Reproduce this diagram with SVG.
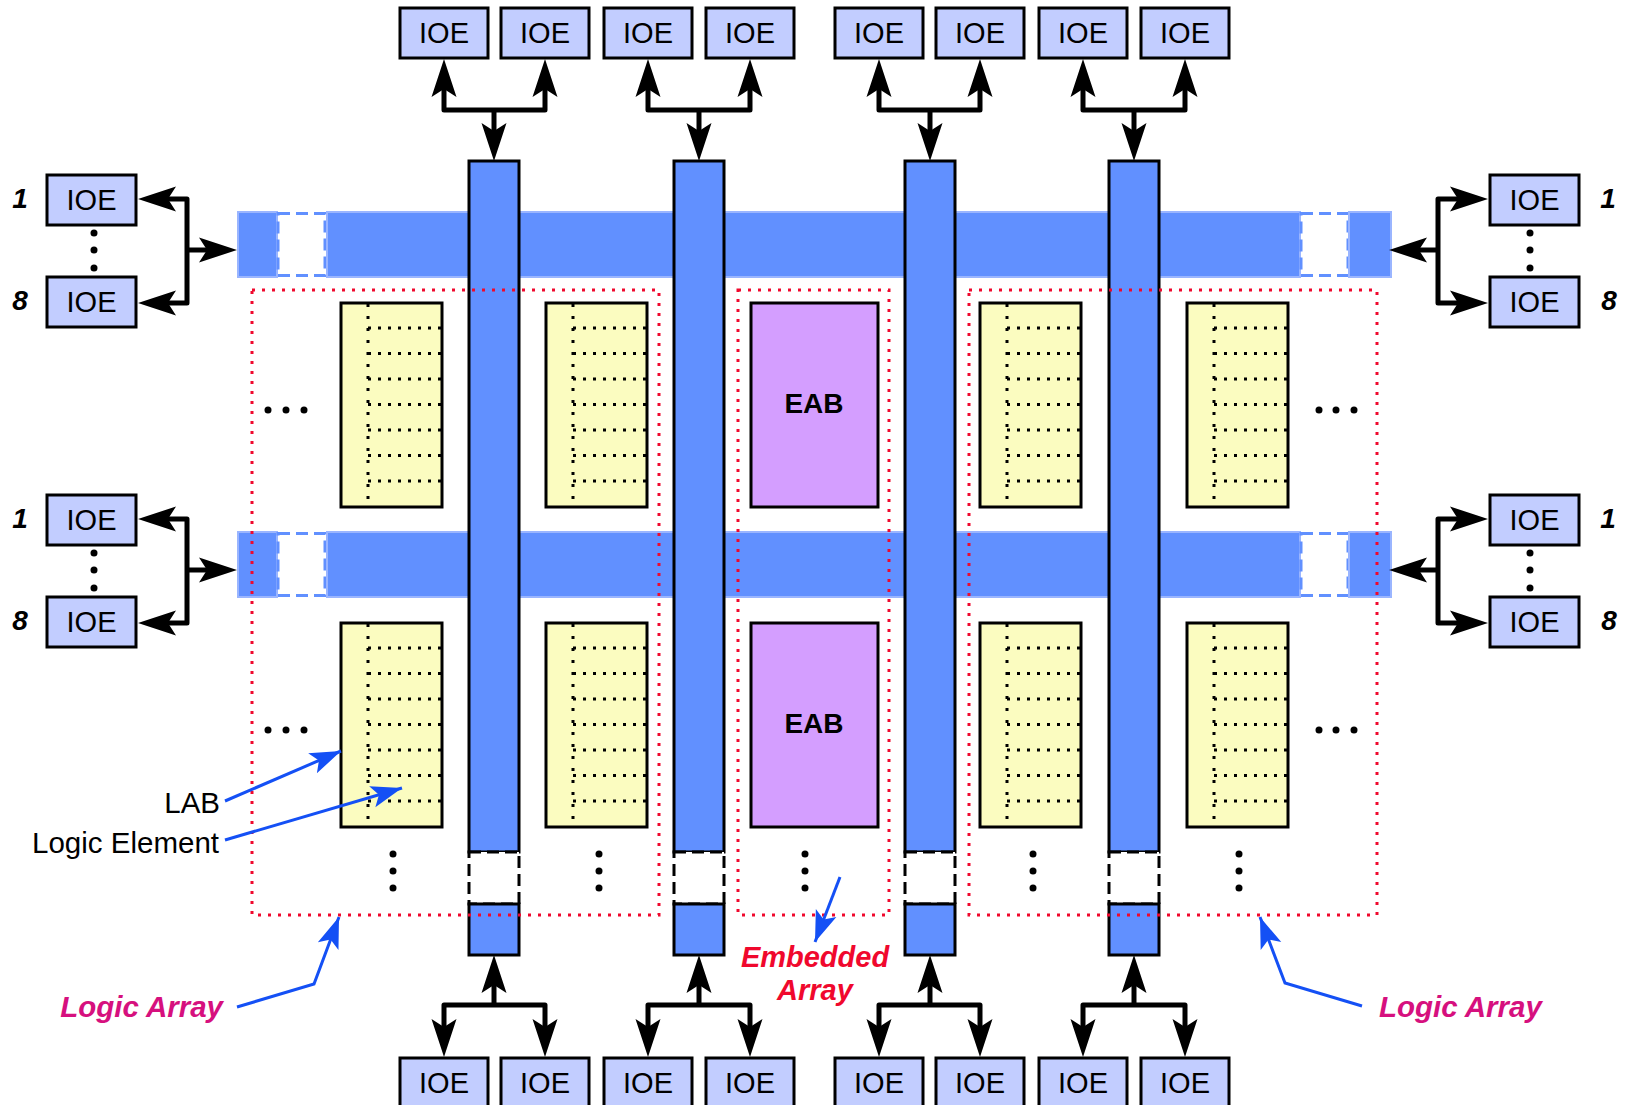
<svg xmlns="http://www.w3.org/2000/svg" width="1625" height="1105" viewBox="0 0 1625 1105">
<style>
.ioe{fill:#c2cdff;stroke:#000;stroke-width:3}
.t{font-family:"Liberation Sans",Arial,sans-serif;font-size:29px;fill:#000;text-anchor:middle}
.lbl{font-family:"Liberation Sans",Arial,sans-serif;font-size:29.5px;fill:#000}
.num{font-family:"Liberation Sans",Arial,sans-serif;font-size:28px;font-weight:bold;font-style:italic;fill:#000;text-anchor:middle}
.bar{fill:#6190ff;stroke:#9ab5ff;stroke-width:2}
.gap{fill:#fff;stroke:#6190ff;stroke-width:3;stroke-dasharray:12 6}
.col{fill:#6190ff;stroke:#000;stroke-width:3}
.cgap{fill:#fff;stroke:#000;stroke-width:3;stroke-dasharray:12 6}
.lab{fill:#fbfcc0;stroke:#000;stroke-width:3}
.eab{fill:#d49eff;stroke:#000;stroke-width:3}
.dotl{fill:none;stroke:#000;stroke-width:3;stroke-dasharray:3 7}
.dotv{fill:none;stroke:#000;stroke-width:3;stroke-dasharray:3 9}
.red{fill:none;stroke:#f0082d;stroke-width:3;stroke-dasharray:3 7}
.blk{fill:none;stroke:#000;stroke-width:5;stroke-linejoin:round;marker-end:url(#ah)}
.blu{fill:none;stroke:#1450f5;stroke-width:3;stroke-linejoin:miter;marker-end:url(#bh)}
.mag{font-family:"Liberation Sans",Arial,sans-serif;font-size:29.5px;font-weight:bold;font-style:italic;fill:#d6107e}
.emb{font-family:"Liberation Sans",Arial,sans-serif;font-size:29px;font-weight:bold;font-style:italic;fill:#f0082d;text-anchor:middle}
.eabt{font-family:"Liberation Sans",Arial,sans-serif;font-size:28px;font-weight:bold;fill:#000;text-anchor:middle}
</style>
<defs>
<marker id="ah" markerUnits="userSpaceOnUse" viewBox="-10 -14 42 28" refX="0" refY="0" markerWidth="42" markerHeight="28" orient="auto">
<path d="M30,0 L-8,-12.5 L0,0 L-8,12.5 Z" fill="#000"/>
</marker>
<marker id="bh" markerUnits="userSpaceOnUse" viewBox="-32 -13 34 26" refX="0" refY="0" markerWidth="34" markerHeight="26" orient="auto">
<path d="M0,0 L-31,-11 L-24,0 L-31,11 Z" fill="#1450f5"/>
</marker>
<g id="labin">
<path class="dotv" d="M27,1 V203"/>
<path class="dotl" d="M27,25 H100 M27,50.5 H100 M27,76 H100 M27,101.5 H100 M27,127 H100 M27,152.5 H100 M27,178 H100"/>
</g>
</defs>

<g id="hbar1">
<rect class="bar" x="238" y="212" width="39" height="65"/>
<rect class="gap" x="278" y="213.5" width="47" height="62"/>
<rect class="bar" x="327" y="212" width="973" height="65"/>
<rect class="gap" x="1301" y="213.5" width="47" height="62"/>
<rect class="bar" x="1349" y="212" width="42" height="65"/>
</g>
<g id="hbar2">
<rect class="bar" x="238" y="532" width="39" height="65"/>
<rect class="gap" x="278" y="533.5" width="47" height="62"/>
<rect class="bar" x="327" y="532" width="973" height="65"/>
<rect class="gap" x="1301" y="533.5" width="47" height="62"/>
<rect class="bar" x="1349" y="532" width="42" height="65"/>
</g>

<g id="vcol1">
<rect class="col" x="469" y="161" width="50" height="691"/>
<rect class="cgap" x="469" y="852" width="50" height="52"/>
<rect class="col" x="469" y="904" width="50" height="51"/>
</g>
<g id="vcol2">
<rect class="col" x="674" y="161" width="50" height="691"/>
<rect class="cgap" x="674" y="852" width="50" height="52"/>
<rect class="col" x="674" y="904" width="50" height="51"/>
</g>
<g id="vcol3">
<rect class="col" x="905" y="161" width="50" height="691"/>
<rect class="cgap" x="905" y="852" width="50" height="52"/>
<rect class="col" x="905" y="904" width="50" height="51"/>
</g>
<g id="vcol4">
<rect class="col" x="1109" y="161" width="50" height="691"/>
<rect class="cgap" x="1109" y="852" width="50" height="52"/>
<rect class="col" x="1109" y="904" width="50" height="51"/>
</g>

<g id="lab-1-1"><rect class="lab" x="341" y="303" width="101" height="204"/><use href="#labin" x="341" y="303"/></g>
<g id="lab-1-2"><rect class="lab" x="546" y="303" width="101" height="204"/><use href="#labin" x="546" y="303"/></g>
<g id="lab-1-3"><rect class="lab" x="980" y="303" width="101" height="204"/><use href="#labin" x="980" y="303"/></g>
<g id="lab-1-4"><rect class="lab" x="1187" y="303" width="101" height="204"/><use href="#labin" x="1187" y="303"/></g>
<g id="lab-2-1"><rect class="lab" x="341" y="623" width="101" height="204"/><use href="#labin" x="341" y="623"/></g>
<g id="lab-2-2"><rect class="lab" x="546" y="623" width="101" height="204"/><use href="#labin" x="546" y="623"/></g>
<g id="lab-2-3"><rect class="lab" x="980" y="623" width="101" height="204"/><use href="#labin" x="980" y="623"/></g>
<g id="lab-2-4"><rect class="lab" x="1187" y="623" width="101" height="204"/><use href="#labin" x="1187" y="623"/></g>

<g id="eab1"><rect class="eab" x="751" y="303" width="127" height="204"/><text class="eabt" x="814" y="413">EAB</text></g>
<g id="eab2"><rect class="eab" x="751" y="623" width="127" height="204"/><text class="eabt" x="814" y="733">EAB</text></g>

<g id="logic-array-left"><rect class="red" x="252" y="290" width="407" height="625"/></g>
<g id="embedded-array"><rect class="red" x="738" y="290" width="151" height="625"/></g>
<g id="logic-array-right"><rect class="red" x="969" y="290" width="408" height="625"/></g>

<g id="ellipses" fill="#000">
<circle cx="268" cy="410" r="3.5"/><circle cx="286" cy="410" r="3.5"/><circle cx="304" cy="410" r="3.5"/>
<circle cx="268" cy="730" r="3.5"/><circle cx="286" cy="730" r="3.5"/><circle cx="304" cy="730" r="3.5"/>
<circle cx="1319" cy="410" r="3.5"/><circle cx="1336" cy="410" r="3.5"/><circle cx="1354" cy="410" r="3.5"/>
<circle cx="1319" cy="730" r="3.5"/><circle cx="1336" cy="730" r="3.5"/><circle cx="1354" cy="730" r="3.5"/>
<circle cx="393" cy="854" r="3.5"/><circle cx="393" cy="871" r="3.5"/><circle cx="393" cy="888" r="3.5"/>
<circle cx="599" cy="854" r="3.5"/><circle cx="599" cy="871" r="3.5"/><circle cx="599" cy="888" r="3.5"/>
<circle cx="805" cy="854" r="3.5"/><circle cx="805" cy="871" r="3.5"/><circle cx="805" cy="888" r="3.5"/>
<circle cx="1033" cy="854" r="3.5"/><circle cx="1033" cy="871" r="3.5"/><circle cx="1033" cy="888" r="3.5"/>
<circle cx="1239" cy="854" r="3.5"/><circle cx="1239" cy="871" r="3.5"/><circle cx="1239" cy="888" r="3.5"/>
<circle cx="94" cy="233" r="3.5"/><circle cx="94" cy="250" r="3.5"/><circle cx="94" cy="268" r="3.5"/>
<circle cx="94" cy="553" r="3.5"/><circle cx="94" cy="570" r="3.5"/><circle cx="94" cy="588" r="3.5"/>
<circle cx="1530" cy="233" r="3.5"/><circle cx="1530" cy="250" r="3.5"/><circle cx="1530" cy="268" r="3.5"/>
<circle cx="1530" cy="553" r="3.5"/><circle cx="1530" cy="570" r="3.5"/><circle cx="1530" cy="588" r="3.5"/>
</g>

<g id="connectors">
<path class="blk" d="M494,110 H444 V89"/><path class="blk" d="M494,110 H545 V89"/><path class="blk" d="M494,110 V131"/>
<path class="blk" d="M699,110 H648 V89"/><path class="blk" d="M699,110 H750 V89"/><path class="blk" d="M699,110 V131"/>
<path class="blk" d="M930,110 H879 V89"/><path class="blk" d="M930,110 H980 V89"/><path class="blk" d="M930,110 V131"/>
<path class="blk" d="M1134,110 H1083 V89"/><path class="blk" d="M1134,110 H1185 V89"/><path class="blk" d="M1134,110 V131"/>
<path class="blk" d="M494,1005 H444 V1027"/><path class="blk" d="M494,1005 H545 V1027"/><path class="blk" d="M494,1005 V985"/>
<path class="blk" d="M699,1005 H648 V1027"/><path class="blk" d="M699,1005 H750 V1027"/><path class="blk" d="M699,1005 V985"/>
<path class="blk" d="M930,1005 H879 V1027"/><path class="blk" d="M930,1005 H980 V1027"/><path class="blk" d="M930,1005 V985"/>
<path class="blk" d="M1134,1005 H1083 V1027"/><path class="blk" d="M1134,1005 H1185 V1027"/><path class="blk" d="M1134,1005 V985"/>
<path class="blk" d="M187,250 V199 H168"/><path class="blk" d="M187,250 V303 H168"/><path class="blk" d="M187,250 H207"/>
<path class="blk" d="M187,570 V519 H168"/><path class="blk" d="M187,570 V623 H168"/><path class="blk" d="M187,570 H207"/>
<path class="blk" d="M1438,250 V199 H1458"/><path class="blk" d="M1438,250 V303 H1458"/><path class="blk" d="M1438,250 H1419"/>
<path class="blk" d="M1438,570 V519 H1458"/><path class="blk" d="M1438,570 V623 H1458"/><path class="blk" d="M1438,570 H1419"/>
<path class="blu" d="M225,801 L341,751"/>
<path class="blu" d="M225,840 L402,788"/>
<path class="blu" d="M237,1007 L314,984 L339,917"/>
<path class="blu" d="M1362,1006 L1285,983 L1260,917"/>
<path class="blu" d="M840,877 L815,942"/>
</g>

<g id="ioe-top-1"><rect class="ioe" x="400" y="8" width="88" height="50"/><text class="t" x="444" y="43">IOE</text></g>
<g id="ioe-top-2"><rect class="ioe" x="501" y="8" width="88" height="50"/><text class="t" x="545" y="43">IOE</text></g>
<g id="ioe-top-3"><rect class="ioe" x="604" y="8" width="88" height="50"/><text class="t" x="648" y="43">IOE</text></g>
<g id="ioe-top-4"><rect class="ioe" x="706" y="8" width="88" height="50"/><text class="t" x="750" y="43">IOE</text></g>
<g id="ioe-top-5"><rect class="ioe" x="835" y="8" width="88" height="50"/><text class="t" x="879" y="43">IOE</text></g>
<g id="ioe-top-6"><rect class="ioe" x="936" y="8" width="88" height="50"/><text class="t" x="980" y="43">IOE</text></g>
<g id="ioe-top-7"><rect class="ioe" x="1039" y="8" width="88" height="50"/><text class="t" x="1083" y="43">IOE</text></g>
<g id="ioe-top-8"><rect class="ioe" x="1141" y="8" width="88" height="50"/><text class="t" x="1185" y="43">IOE</text></g>

<g id="ioe-bot-1"><rect class="ioe" x="400" y="1058" width="88" height="50"/><text class="t" x="444" y="1093">IOE</text></g>
<g id="ioe-bot-2"><rect class="ioe" x="501" y="1058" width="88" height="50"/><text class="t" x="545" y="1093">IOE</text></g>
<g id="ioe-bot-3"><rect class="ioe" x="604" y="1058" width="88" height="50"/><text class="t" x="648" y="1093">IOE</text></g>
<g id="ioe-bot-4"><rect class="ioe" x="706" y="1058" width="88" height="50"/><text class="t" x="750" y="1093">IOE</text></g>
<g id="ioe-bot-5"><rect class="ioe" x="835" y="1058" width="88" height="50"/><text class="t" x="879" y="1093">IOE</text></g>
<g id="ioe-bot-6"><rect class="ioe" x="936" y="1058" width="88" height="50"/><text class="t" x="980" y="1093">IOE</text></g>
<g id="ioe-bot-7"><rect class="ioe" x="1039" y="1058" width="88" height="50"/><text class="t" x="1083" y="1093">IOE</text></g>
<g id="ioe-bot-8"><rect class="ioe" x="1141" y="1058" width="88" height="50"/><text class="t" x="1185" y="1093">IOE</text></g>

<g id="ioe-left-1a"><rect class="ioe" x="47" y="175" width="89" height="50"/><text class="t" x="91.5" y="210">IOE</text></g>
<g id="ioe-left-1b"><rect class="ioe" x="47" y="277" width="89" height="50"/><text class="t" x="91.5" y="312">IOE</text></g>
<g id="ioe-left-2a"><rect class="ioe" x="47" y="495" width="89" height="50"/><text class="t" x="91.5" y="530">IOE</text></g>
<g id="ioe-left-2b"><rect class="ioe" x="47" y="597" width="89" height="50"/><text class="t" x="91.5" y="632">IOE</text></g>
<g id="ioe-right-1a"><rect class="ioe" x="1490" y="175" width="89" height="50"/><text class="t" x="1534.5" y="210">IOE</text></g>
<g id="ioe-right-1b"><rect class="ioe" x="1490" y="277" width="89" height="50"/><text class="t" x="1534.5" y="312">IOE</text></g>
<g id="ioe-right-2a"><rect class="ioe" x="1490" y="495" width="89" height="50"/><text class="t" x="1534.5" y="530">IOE</text></g>
<g id="ioe-right-2b"><rect class="ioe" x="1490" y="597" width="89" height="50"/><text class="t" x="1534.5" y="632">IOE</text></g>

<g id="labels">
<text class="num" x="20" y="208">1</text>
<text class="num" x="20" y="310">8</text>
<text class="num" x="20" y="528">1</text>
<text class="num" x="20" y="630">8</text>
<text class="num" x="1608" y="208">1</text>
<text class="num" x="1609" y="310">8</text>
<text class="num" x="1608" y="528">1</text>
<text class="num" x="1609" y="630">8</text>
<text class="lbl" x="220" y="813" text-anchor="end">LAB</text>
<text class="lbl" x="219" y="853" text-anchor="end">Logic Element</text>
<text class="mag" x="223" y="1017" text-anchor="end">Logic Array</text>
<text class="mag" x="1379" y="1017">Logic Array</text>
<text class="emb" x="815" y="967">Embedded</text>
<text class="emb" x="815" y="1000">Array</text>
</g>
</svg>
